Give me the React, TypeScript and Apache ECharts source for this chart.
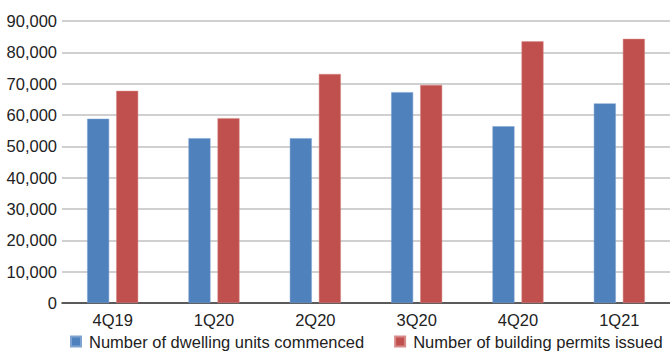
import React, { useEffect, useRef } from "react";
import * as echarts from "echarts";

const categories = ["4Q19", "1Q20", "2Q20", "3Q20", "4Q20", "1Q21"];
const dwellingUnits = [58800, 52600, 52600, 67300, 56400, 63700];
const buildingPermits = [67700, 59000, 73100, 69600, 83500, 84300];
const seriesNames = ["Number of dwelling units commenced", "Number of building permits issued"];

const FONT = "'Liberation Sans Narrow', 'Liberation Sans', Arial, sans-serif";

export default function App() {
  const ref = useRef<HTMLDivElement>(null);
  useEffect(() => {
    const chart = echarts.init(ref.current!, null, { renderer: "svg" });
    chart.setOption({
      animation: false,
      textStyle: { fontFamily: FONT },
      grid: { left: 62, right: 0, top: 21, bottom: 53, containLabel: false },
      legend: {
        bottom: 1,
        left: 65,
        itemWidth: 10,
        itemHeight: 10,
        itemGap: 30,
        icon: "rect",
        textStyle: { fontFamily: FONT, fontSize: 16.5, color: "#222", padding: [0, 0, 0, 3] },
        data: seriesNames,
      },
      xAxis: {
        type: "category",
        data: categories,
        axisLine: { lineStyle: { color: "#333", width: 1.5 } },
        axisTick: { show: false },
        axisLabel: { fontFamily: FONT, fontSize: 16.5, color: "#222", margin: 8 },
      },
      yAxis: {
        type: "value",
        min: 0,
        max: 90000,
        interval: 10000,
        axisLine: { show: false },
        axisTick: { show: false },
        axisLabel: {
          fontFamily: FONT,
          fontSize: 16.5,
          color: "#222",
          margin: 5,
          formatter: (v: number) => v.toLocaleString("en-US"),
        },
        splitLine: { lineStyle: { color: "#c0c0c0", width: 1.5 } },
      },
      series: [
        {
          name: seriesNames[0],
          type: "bar",
          data: dwellingUnits,
          barWidth: 22,
          barGap: "32%",
          itemStyle: { color: "#4F81BD", borderColor: "#7fa3d0", borderWidth: 0.5 },
        },
        {
          name: seriesNames[1],
          type: "bar",
          data: buildingPermits,
          barWidth: 22,
          itemStyle: { color: "#C0504D", borderColor: "#d88a88", borderWidth: 0.5 },
        },
      ],
    });
    return () => chart.dispose();
  }, []);
  return <div ref={ref} style={{ position: "absolute", left: 0, top: 0, width: 670, height: 356 }} />;
}
